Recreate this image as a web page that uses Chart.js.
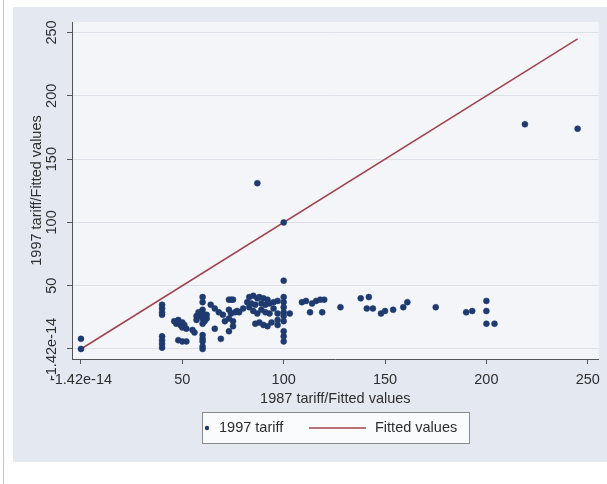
<!DOCTYPE html>
<html>
<head>
<meta charset="utf-8">
<script src="https://cdn.jsdelivr.net/npm/chart.js@4"></script>
<style>
  html, body { margin: 0; padding: 0; background: #ffffff; }
  #c { display: block; }
</style>
</head>
<body>
<canvas id="c" width="607" height="484"></canvas>
<script>
// ---- data ----
const tariff1987 = [
  0, 0,
  40, 40, 40, 40, 40, 40, 40, 40,
  46, 47, 48, 49, 50, 51, 52, 50, 48, 50, 52,
  55, 56, 57,
  60, 60, 60, 60, 60, 60, 60, 60, 60, 60, 60,
  58, 59, 61, 62, 62, 57,
  64, 66, 68, 70, 66, 69, 71,
  73, 74, 75,
  73, 74, 76, 73, 75, 73, 75,
  78, 80, 82, 77,
  83, 85, 87, 88, 90, 92, 84, 86, 89, 91, 93, 95, 97, 85, 87, 89, 91, 93, 86, 88, 90, 92, 94, 97, 97, 97, 83, 95,
  87,
  100, 100, 100, 100, 100, 100, 100, 100, 100, 100, 100,
  103,
  109, 111, 114, 116, 118, 120, 113, 119, 128,
  138, 142, 141, 144, 148, 150, 154, 159, 161, 175, 190, 193, 200, 200, 200, 204, 219, 245
];
const tariff1997 = [
  8, 0,
  35, 32, 29, 27, 10, 7, 4, 1,
  22, 20, 23, 19, 21, 19, 16, 17, 7, 6, 6,
  15, 13, 23,
  41, 37, 31, 28, 24, 20, 11, 8, 6, 2, 0,
  29, 26, 22, 27, 24, 26,
  35, 32, 29, 27, 16, 8, 22,
  39, 39, 39,
  31, 28, 29, 24, 22, 14, 18,
  29, 32, 37, 30,
  41, 42, 40, 41, 40, 39, 36, 35, 36, 35, 36, 37, 38, 30, 28, 31, 29, 28, 20, 21, 19, 18, 21, 28, 23, 19, 33, 32,
  131,
  54, 41, 37, 33, 29, 26, 22, 14, 10, 6, 100,
  28,
  37, 38, 36, 38, 39, 39, 29, 29, 33,
  40, 41, 32, 32, 28, 30, 31, 33, 37, 33, 29, 30, 38, 30, 20, 20, 177.5, 174
];
const fittedX = [0, 245];
const fittedY = [0, 245];

const xTickValues = [0, 50, 100, 150, 200, 250];
const xTickLabels = ["-1.42e-14", "50", "100", "150", "200", "250"];
const yTickValues = [0, 50, 100, 150, 200, 250];
const yTickLabels = ["-1.42e-14", "50", "100", "150", "200", "250"];

const xTitle = "1987 tariff/Fitted values";
const yTitle = "1997 tariff/Fitted values";
const legendLabels = ["1997 tariff", "Fitted values"];

// ---- styles ----
const FONT = "'Liberation Sans', Arial, sans-serif";
const FS = 14.5;
const TEXT = "#2e2e2e";
const NAVY = "#1f3a6e";
const MAROON = "#a3434b";

const scatterData = tariff1987.map((x, i) => ({ x: x, y: tariff1997[i] }));
const lineData = fittedX.map((x, i) => ({ x: x, y: fittedY[i] }));

const bgPlugin = {
  id: 'bg',
  beforeDraw(chart) {
    const ctx = chart.ctx;
    const a = chart.chartArea;
    ctx.save();
    ctx.fillStyle = '#ffffff';
    ctx.fillRect(0, 0, chart.width, chart.height);
    ctx.fillStyle = '#e4e8f0';
    ctx.fillRect(13, 7, chart.width - 13, 455);
    ctx.strokeStyle = '#c9c9c9';
    ctx.lineWidth = 1;
    ctx.beginPath();
    ctx.moveTo(3.5, 0);
    ctx.lineTo(3.5, chart.height);
    ctx.stroke();
    ctx.fillStyle = '#f3f5f9';
    ctx.fillRect(a.left, a.top, a.right - a.left, a.bottom - a.top);
    ctx.restore();
  }
};

const overlayPlugin = {
  id: 'overlay',
  afterDraw(chart) {
    const ctx = chart.ctx;
    const ys = chart.scales.y;
    ctx.save();
    // rotated y tick labels
    ctx.fillStyle = TEXT;
    ctx.font = FS + "px " + FONT;
    ctx.textAlign = 'center';
    ctx.textBaseline = 'middle';
    yTickValues.forEach((v, i) => {
      const py = ys.getPixelForValue(v);
      ctx.save();
      ctx.translate(52, py);
      ctx.rotate(-Math.PI / 2);
      ctx.fillText(yTickLabels[i], 0, 0);
      ctx.restore();
    });
    // legend box
    const bx = 202, by = 412, bw = 267, bh = 31;
    ctx.fillStyle = '#fafbfc';
    ctx.fillRect(bx, by, bw, bh);
    ctx.strokeStyle = '#8a8a8a';
    ctx.lineWidth = 1;
    ctx.strokeRect(bx + 0.5, by + 0.5, bw, bh);
    const cy = by + bh / 2 + 0.5;
    ctx.fillStyle = NAVY;
    ctx.beginPath();
    ctx.arc(207, cy, 2.2, 0, Math.PI * 2);
    ctx.fill();
    ctx.fillStyle = TEXT;
    ctx.textAlign = 'left';
    ctx.fillText(legendLabels[0], 219, cy);
    ctx.strokeStyle = MAROON;
    ctx.lineWidth = 1.5;
    ctx.beginPath();
    ctx.moveTo(309, cy);
    ctx.lineTo(366, cy);
    ctx.stroke();
    ctx.fillStyle = TEXT;
    ctx.fillText(legendLabels[1], 375, cy);
    ctx.restore();
  }
};

new Chart(document.getElementById('c'), {
  type: 'scatter',
  data: {
    datasets: [
      {
        label: legendLabels[0],
        data: scatterData,
        backgroundColor: NAVY,
        borderColor: NAVY,
        borderWidth: 0.5,
        pointRadius: 3,
        pointHoverRadius: 3
      },
      {
        type: 'line',
        label: legendLabels[1],
        data: lineData,
        borderColor: MAROON,
        borderWidth: 1.5,
        pointRadius: 0,
        fill: false,
        tension: 0
      }
    ]
  },
  options: {
    responsive: false,
    animation: false,
    devicePixelRatio: 1,
    layout: { padding: { left: 0, top: 22, right: 7, bottom: 0 } },
    plugins: {
      legend: { display: false },
      tooltip: { enabled: false },
      title: { display: false }
    },
    scales: {
      x: {
        type: 'linear',
        min: -4.43,
        max: 255.4,
        afterFit(s) { s.height = 125; },
        afterBuildTicks(s) { s.ticks = xTickValues.map(v => ({ value: v })); },
        ticks: {
          autoSkip: false,
          maxRotation: 0,
          padding: 7,
          color: TEXT,
          font: { family: FONT, size: FS },
          callback(v, i) { return xTickLabels[i]; }
        },
        grid: {
          display: true,
          drawOnChartArea: false,
          drawTicks: true,
          tickLength: 5,
          tickColor: '#555555'
        },
        border: { display: true, color: '#555555', width: 1 },
        title: {
          display: true,
          text: xTitle,
          color: TEXT,
          font: { family: FONT, size: FS },
          padding: { top: 0, bottom: 76 }
        }
      },
      y: {
        type: 'linear',
        min: -7.9,
        max: 258.3,
        afterFit(s) { s.width = 72; },
        afterBuildTicks(s) { s.ticks = yTickValues.map(v => ({ value: v })); },
        ticks: { display: false },
        grid: {
          display: true,
          drawOnChartArea: true,
          color: '#dce1e9',
          lineWidth: 1,
          drawTicks: true,
          tickLength: 5,
          tickColor: '#555555'
        },
        border: { display: true, color: '#555555', width: 1 },
        title: {
          display: true,
          text: yTitle,
          color: TEXT,
          font: { family: FONT, size: FS },
          padding: { top: 28, bottom: 0 }
        }
      }
    }
  },
  plugins: [bgPlugin, overlayPlugin]
});
</script>
</body>
</html>
